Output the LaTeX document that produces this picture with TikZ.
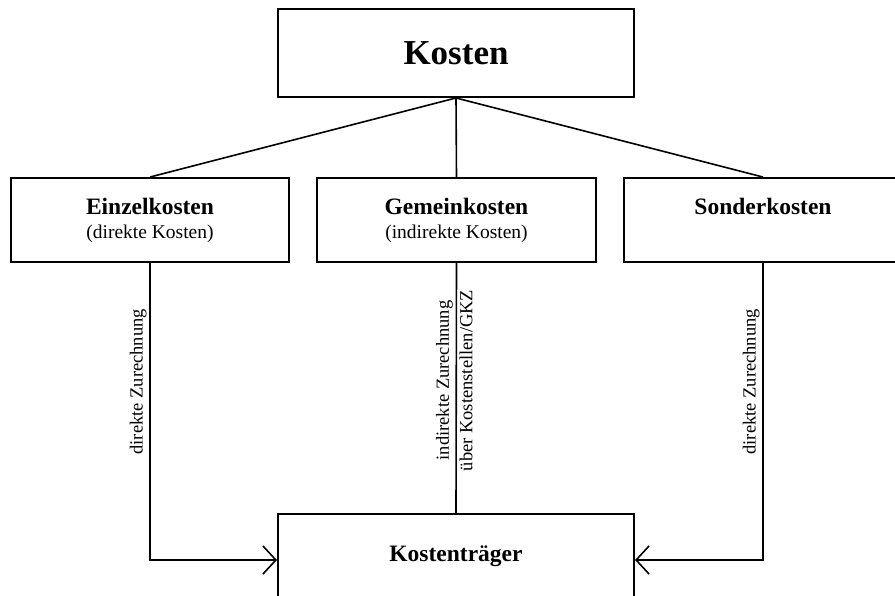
\documentclass[tikz,border=0pt]{standalone}
\usepackage{fontspec}
\setmainfont{Liberation Serif}
\usetikzlibrary{arrows.meta, positioning}
\newcommand{\untertext}[1]{{\fontsize{19.5}{24}\selectfont\mdseries #1}}

\begin{document}
\begin{tikzpicture}[x=1pt,y=-1pt,
  box/.style={draw, line width=1.9pt, minimum width=278pt, minimum height=84pt, inner sep=0pt, align=center,
    font=\fontsize{23.5}{24}\selectfont\bfseries},
  lab/.style={rotate=90, inner sep=2.5pt, font=\fontsize{18.5}{20}\selectfont},
  conn/.style={line width=1.6pt},
  pfeil/.style={conn, -{Straight Barb[length=13pt, width=28pt, line width=1.6pt]}}]
\useasboundingbox (0,0) rectangle (895,596);
\clip (0,0) rectangle (895,596);
\node[box, minimum width=356pt, minimum height=88pt, font=\fontsize{35}{36}\selectfont\bfseries] (kosten) at (456,53) {Kosten};
\node[box] (einzel) at (150,220) {Einzelkosten\\\untertext{(direkte Kosten)}};
\node[box, minimum width=279pt] (gemein) at (456.5,220) {Gemeinkosten\\\untertext{(indirekte Kosten)}};
\node[box] (sonder) at (763,220) {Sonderkosten\\\untertext{\phantom{(direkte Kosten)}}};
\node[box, minimum width=356pt] (traeger) at (456,556) {Kostenträger};
\draw[conn] (kosten.south) -- (einzel.north);
\draw[conn] (kosten.south) -- (gemein.north);
\draw[conn] (kosten.south) -- (sonder.north);
\draw[pfeil] (einzel.south) |- node[lab, anchor=south, pos=0.2] {direkte Zurechnung} ([yshift=-4pt]traeger.west);
\draw[pfeil] (sonder.south) |- node[lab, anchor=south, pos=0.2] {direkte Zurechnung} ([yshift=-4pt]traeger.east);
\draw[conn] (gemein.south) -- node[lab, anchor=south, pos=0.47] {indirekte Zurechnung}
  node[lab, anchor=north, pos=0.47] {über Kostenstellen/GKZ} (traeger.north);
\end{tikzpicture}
\end{document}
